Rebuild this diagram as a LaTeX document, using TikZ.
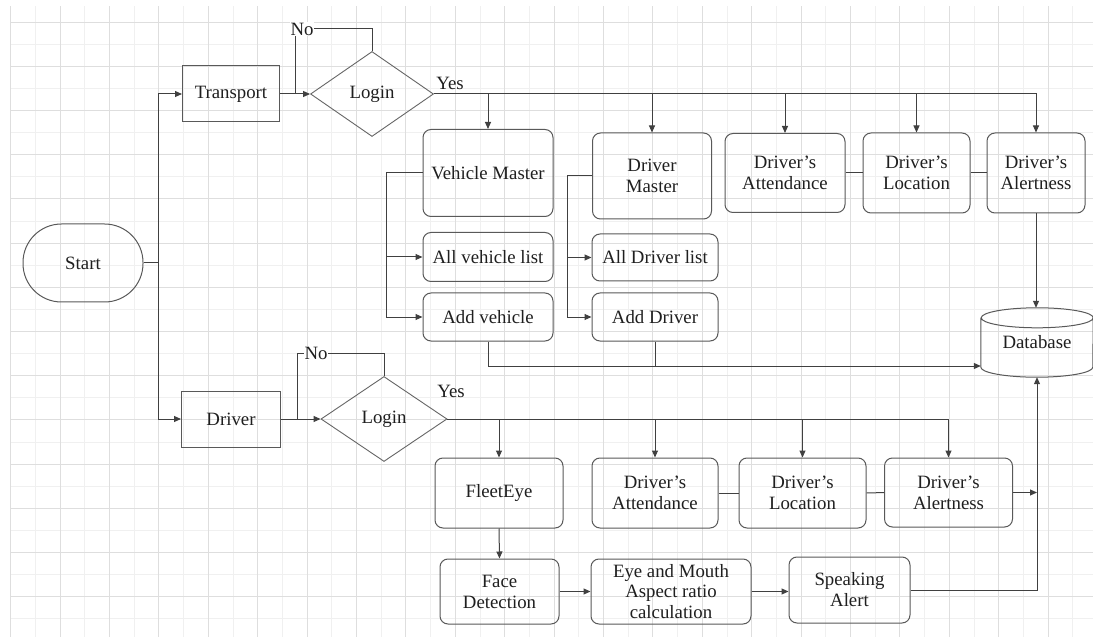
\documentclass[tikz,border=0pt]{standalone}
\usepackage{fontspec}
\setmainfont{Liberation Serif}
\usetikzlibrary{shapes.geometric,arrows.meta}
\begin{document}
\begin{tikzpicture}[x=1pt,y=-1pt,
  font=\fontsize{18.8}{21}\selectfont,
  gridmajor/.style={draw=black!13, line width=0.8pt},
  gridminor/.style={draw=black!6, line width=0.7pt},
  box/.style={draw=black!65, line width=1pt, rounded corners=8pt, align=center, inner sep=2pt, text=black!88},
  sqbox/.style={draw=black!65, line width=1pt, align=center, inner sep=2pt, text=black!88},
  dia/.style={draw=black!60, line width=0.9pt, diamond, aspect=1.45, inner sep=0pt, text=black!88},
  conn/.style={draw=black!75, line width=1pt},
  arr/.style={conn, -{Triangle[length=7pt,width=6pt]}},
  lbl/.style={fill=white, inner sep=1pt, text=black!88},
  sz/.style 2 args={minimum width=#1pt, minimum height=#2pt}
]
\useasboundingbox (0,0) rectangle (1093,639);
\fill[white] (0,0) rectangle (1093,639);
% background grid
\begin{scope}
\clip (10,7) rectangle (1093,636);
\foreach \k in {-1,...,22} { \draw[gridminor] ({35.3+\k*49.4},0) -- ++(0,640); }
\foreach \k in {-1,...,14} { \draw[gridminor] (0,{44.1+\k*44.2}) -- ++(1093,0); }
\foreach \k in {-1,...,21} { \draw[gridmajor] ({60+\k*49.4},0) -- ++(0,640); }
\foreach \k in {0,...,14} { \draw[gridmajor] (0,{22+\k*44.2}) -- ++(1093,0); }
\end{scope}

% nodes
\node[sqbox, rounded corners=38.5pt, sz={120}{78}] (start) at (83,263) {Start};
\node[sqbox, sz={97}{56}] (transport) at (231,94) {Transport};
\node[dia, sz={123}{85}] (tlogin) at (372,94) {Login};
\node[sqbox, sz={99}{56}] (driver) at (231,419) {Driver};
\node[dia, sz={126}{85}] (dlogin) at (384,419) {Login};

\node[box, sz={130}{87}] (vm) at (488,173) {Vehicle Master};
\node[box, sz={130}{49}] (avl) at (488,257) {All vehicle list};
\node[box, sz={130}{48}] (av) at (488,317) {Add vehicle};
\node[box, sz={119}{86}] (dm) at (652,176) {Driver\\Master};
\node[box, sz={126}{47}] (adl) at (655,257.5) {All Driver list};
\node[box, sz={126}{48}] (ad) at (655,317) {Add Driver};
\node[box, sz={120}{79}] (att1) at (785,173) {Driver’s\\Attendance};
\node[box, sz={107}{80}] (loc1) at (916.5,173) {Driver’s\\Location};
\node[box, sz={98}{80}] (alert1) at (1036,173) {Driver’s\\Alertness};

\node[sz={112}{69}, inner sep=0pt, text=black!88] (db) at (1037,342.5) {Database};
\draw[draw=black!65, line width=1pt]
  ([yshift=-10pt]db.north west) -- ([yshift=10pt]db.south west)
  arc[start angle=180, end angle=360, x radius=56pt, y radius=10pt]
  -- ([yshift=-10pt]db.north east)
  arc[start angle=0, end angle=180, x radius=56pt, y radius=10pt]
  arc[start angle=180, end angle=360, x radius=56pt, y radius=10pt];

\node[box, sz={128}{70}] (fe) at (499,493) {FleetEye};
\node[box, sz={126}{70}] (att2) at (655,493) {Driver’s\\Attendance};
\node[box, sz={127}{70}] (loc2) at (802.5,493) {Driver’s\\Location};
\node[box, sz={128}{69}] (alert2) at (948.5,492.5) {Driver’s\\Alertness};
\node[box, sz={119}{65}] (face) at (499.5,591.5) {Face\\Detection};
\node[box, sz={160}{65}, font=\fontsize{18.8}{20.5}\selectfont] (eye) at (671,591.5) {Eye and Mouth\\Aspect ratio\\calculation};
\node[box, sz={121}{66}] (speak) at (849.5,590) {Speaking\\Alert};

% coordinates
\coordinate (j) at (158,263);
\coordinate (tno) at (295,94);
\coordinate (tnoc) at (295,29);
\coordinate (dno) at (297,419);
\coordinate (dnoc) at (297,353);
\coordinate (vb1) at (386,173);
\coordinate (vb2) at (386,317);
\coordinate (db1) at (567,176);
\coordinate (db2) at (567,317);

% connectors top
\draw[conn] (start.east) -- (j);
\draw[arr] (j) |- (transport.west);
\draw[arr] (j) |- (driver.west);
\draw[arr] (transport.east) -- (tlogin.west);
\draw[conn] (tlogin.north) |- (tnoc) -- (tno);
\node[lbl] at (302,29) {No};
\node[text=black!88, inner sep=1pt] at (450,83) {Yes};
\draw[arr] (tlogin.east) -| (alert1.north);
\draw[arr] (vm.north |- tlogin.east) -- (vm.north);
\draw[arr] (dm.north |- tlogin.east) -- (dm.north);
\draw[arr] (att1.north |- tlogin.east) -- (att1.north);
\draw[arr] (loc1.north |- tlogin.east) -- (loc1.north);

\draw[conn] (vm.west) -- (vb1) -- (vb2);
\draw[arr] (vb1 |- avl.west) -- (avl.west);
\draw[arr] (vb2) -- (av.west);
\draw[conn] (dm.west) -- (db1) -- (db2);
\draw[arr] (db1 |- adl.west) -- (adl.west);
\draw[arr] (db2) -- (ad.west);

\draw[conn] (att1) -- (loc1);
\draw[conn] (loc1) -- (alert1);
\draw[arr] (alert1.south) -- (db.north -| alert1.south);
\draw[arr] (av.south) |- ([yshift=-23.5pt]db.west);
\draw[conn] (ad.south) -- ++(0,24.5);

% connectors bottom
\draw[arr] (driver.east) -- (dlogin.west);
\draw[conn] (dlogin.north) |- (dnoc) -- (dno);
\node[lbl] at (316,353) {No};
\node[text=black!88, inner sep=1pt] at (451,391) {Yes};
\draw[arr] (dlogin.east) -| (alert2.north);
\draw[arr] (fe.north |- dlogin.east) -- (fe.north);
\draw[arr] (att2.north |- dlogin.east) -- (att2.north);
\draw[arr] (loc2.north |- dlogin.east) -- (loc2.north);
\draw[conn] (att2) -- (loc2);
\draw[conn] (loc2) -- (alert2);
\draw[arr] (alert2.east) -- (alert2.east -| db.south);
\draw[arr] (fe.south) -- (face.north);
\draw[arr] (face.east) -- (eye.west);
\draw[arr] (eye.west -| eye.east) -- (speak.west |- eye.east);
\draw[arr] (speak.east) -| (db.south);
\end{tikzpicture}
\end{document}
